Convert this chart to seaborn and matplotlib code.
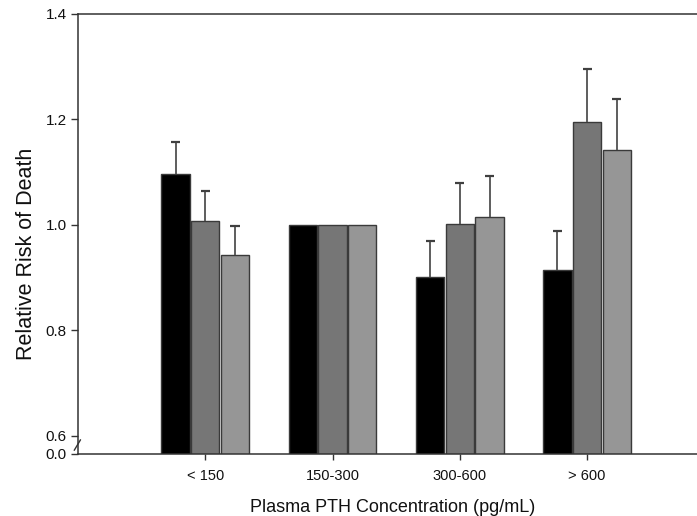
import matplotlib
matplotlib.use("Agg")
import matplotlib.pyplot as plt
import seaborn as sns
import pandas as pd
import numpy as np

categories = ["< 150", "150-300", "300-600", "> 600"]
series = ["Series 1", "Series 2", "Series 3"]
black_vals = [1.096, 1.0, 0.900, 0.914]
dark_vals = [1.007, 1.0, 1.002, 1.195]
light_vals = [0.942, 1.0, 1.015, 1.142]
black_hi = [1.157, np.nan, 0.969, 0.988]
dark_hi = [1.064, np.nan, 1.080, 1.295]
light_hi = [0.998, np.nan, 1.093, 1.238]
ytick_vals = [0.6, 0.8, 1.0, 1.2, 1.4]
ytick_labels = ["0.6", "0.8", "1.0", "1.2", "1.4"]

colors = ["#000000", "#767676", "#969696"]

rows = []
for s, vals, his in zip(series, [black_vals, dark_vals, light_vals], [black_hi, dark_hi, light_hi]):
    for c, v, h in zip(categories, vals, his):
        rows.append({"cat": c, "series": s, "value": v, "hi": h})
df = pd.DataFrame(rows)

sns.set_theme(style="white")
plt.rcParams["font.family"] = ["Liberation Sans", "DejaVu Sans"]

fig = plt.figure(figsize=(6.97, 5.16), dpi=100)
ax = fig.add_axes([78 / 697, 1 - 454 / 516, (708 - 78) / 697, (454 - 14) / 516])

sns.barplot(data=df, x="cat", y="value", hue="series", order=categories,
            hue_order=series, palette=colors, errorbar=None, width=0.7,
            gap=0.05, edgecolor="#3a3a3a", linewidth=1.0, legend=False, ax=ax)

# upper-only error bars, placed at the bar centres produced by seaborn
ybottom = 0.565
cap_half = 0.036
for container, s in zip(ax.containers, series):
    sub = df[df["series"] == s].set_index("cat").loc[categories]
    for patch, (_, r) in zip(container.patches, sub.iterrows()):
        if np.isnan(r["hi"]):
            continue
        xc = patch.get_x() + patch.get_width() / 2
        ax.vlines(xc, r["value"], r["hi"], colors="#505050", linewidth=1.3, zorder=1)
        ax.hlines(r["hi"], xc - cap_half, xc + cap_half, colors="#404040",
                  linewidth=1.6, zorder=1)

ax.set_xlim(-1.0, 3.95)
ax.set_ylim(ybottom, 1.4)
ax.set_yticks([ybottom] + ytick_vals)
ax.set_yticklabels(["0.0"] + ytick_labels)

for sp in ["left", "bottom", "top"]:
    ax.spines[sp].set_visible(True)
    ax.spines[sp].set_color("#333333")
    ax.spines[sp].set_linewidth(1.1)
ax.spines["right"].set_visible(False)

ax.tick_params(axis="y", which="both", left=True, direction="out", length=5,
               width=1, color="#333333", labelsize=11, pad=3)
ax.tick_params(axis="x", which="both", bottom=True, direction="out", length=4,
               width=1, color="#333333", labelsize=10.5, pad=6.5)

ax.set_xlabel("Plasma PTH Concentration (pg/mL)", fontsize=13, labelpad=11.5, color="#111111")
ax.set_ylabel("Relative Risk of Death", fontsize=15.5, color="#111111")
ax.yaxis.set_label_coords(-0.065, 0.4545)
for t in ax.get_xticklabels() + ax.get_yticklabels():
    t.set_color("#111111")

# axis break mark
trans = ax.get_yaxis_transform()
ax.plot([-0.006, 0.004], [0.572, 0.592], transform=trans, color="#333333",
        lw=1.0, clip_on=False)

fig.savefig("out.png", dpi=100)
